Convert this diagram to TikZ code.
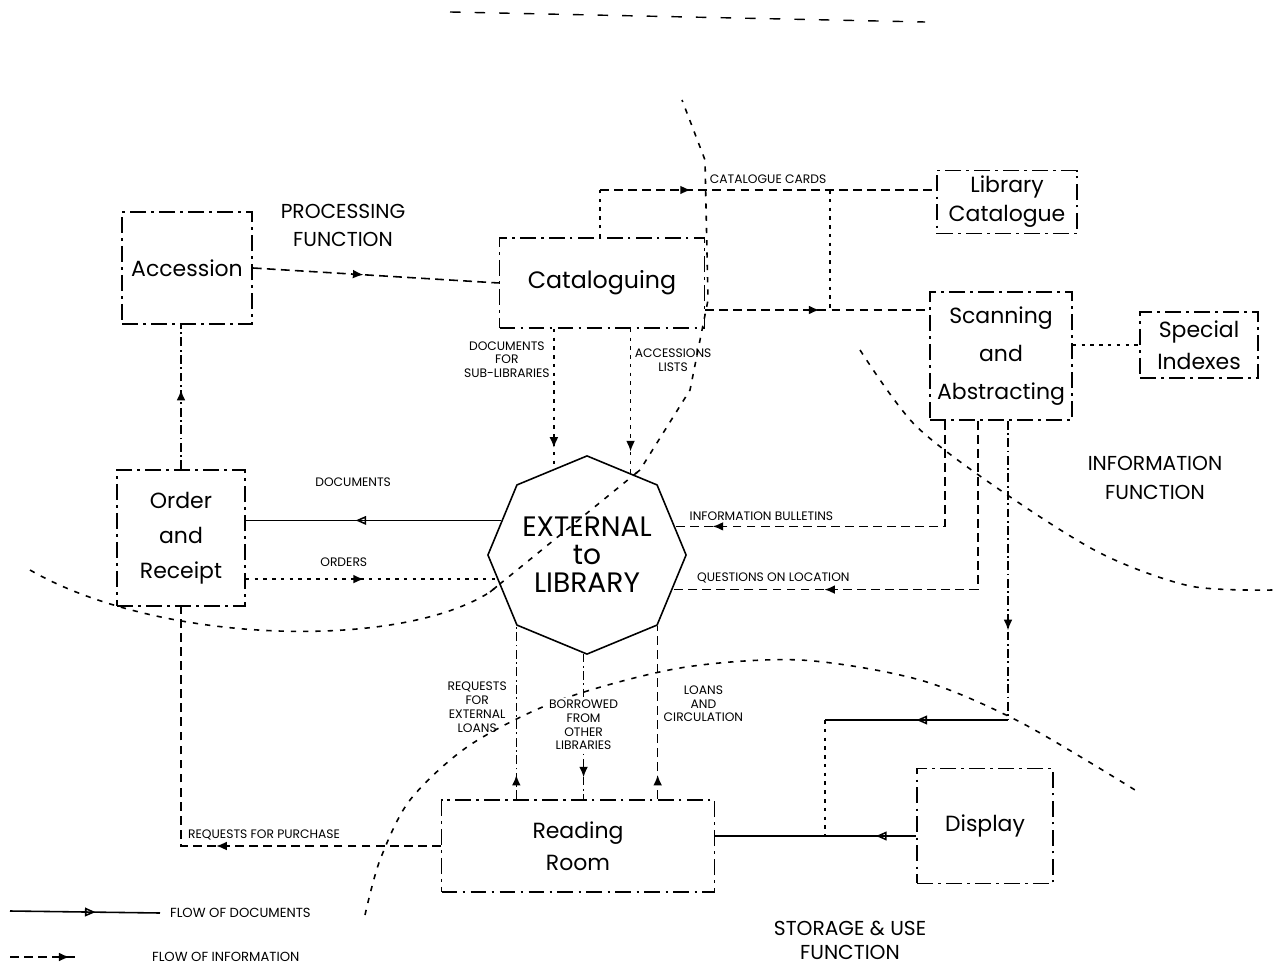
\documentclass[tikz,border=0pt]{standalone}
\usepackage{fontspec}
\setmainfont{Poppins}
\usetikzlibrary{shapes.geometric,arrows.meta,decorations.markings}

\tikzset{
  box/.style={draw, line width=0.9pt, dash pattern=on 9pt off 3pt on 1.5pt off 3pt,
    align=center, inner sep=2pt, font=\fontsize{12.5}{19}\selectfont},
  lbl/.style={font=\fontsize{7}{7.8}\selectfont, align=center, inner sep=1pt},
  fn/.style={font=\fontsize{11.5}{16}\selectfont, align=center},
  doc/.style={line width=0.9pt},
  info/.style={line width=0.9pt, dash pattern=on 5pt off 3pt},
  infodot/.style={line width=0.9pt, dash pattern=on 2pt off 3pt},
  infodd/.style={line width=0.9pt, dash pattern=on 5pt off 2pt on 1pt off 2pt},
  bound/.style={line width=0.9pt, dash pattern=on 3pt off 4pt},
  midarr/.style={postaction={decorate}, decoration={markings,
    mark=at position #1 with {\arrow{Latex[length=6pt,width=5pt]}}}},
  midtri/.style={postaction={decorate}, decoration={markings,
    mark=at position #1 with {\arrow{Triangle[open,length=6pt,width=5pt]}}}},
}

\begin{document}
\begin{tikzpicture}[x=0.02cm, y=-0.02cm]
    \tikzset{>=latex}
    \useasboundingbox (0,0) rectangle (1273,972);
    % function boundaries
    \draw[line width=0.8pt, dash pattern=on 6pt off 8pt] (450,12) -- (925,22);
    \draw[bound] (30,570) .. controls (160,645) and (400,650) .. (490,592) -- (640,470) -- (690,390) -- (708,300) -- (705,160) -- (682,100);
    \draw[bound] plot[smooth] coordinates {(860,350) (915,425) (1000,490) (1100,553) (1190,586) (1273,590)};
    \draw[bound] plot[smooth] coordinates {(365,915) (380,860) (410,800) (470,745) (560,700) (680,668) (800,660) (920,680) (1020,722) (1135,790)};
    % boxes
    \node[box, minimum width=2.6cm, minimum height=2.24cm] (acc) at (187,268) {Accession};
    \node[box, minimum width=4.1cm, minimum height=1.8cm, font=\fontsize{13.5}{19}\selectfont] (cat) at (602,283) {Cataloguing};
    \node[box, minimum width=2.8cm, minimum height=1.26cm, font=\fontsize{12.5}{16.5}\selectfont] (libcat) at (1007,202) {Library\\Catalogue};
    \node[box, minimum width=2.84cm, minimum height=2.56cm, font=\fontsize{12.5}{21.5}\selectfont] (scan) at (1001,356) {Scanning\\and\\Abstracting};
    \node[box, minimum width=2.36cm, minimum height=1.32cm, font=\fontsize{12.5}{18}\selectfont] (spec) at (1199,345) {Special\\Indexes};
    \node[box, minimum width=2.56cm, minimum height=2.72cm, font=\fontsize{12.5}{20}\selectfont] (order) at (181,538) {Order\\and\\Receipt};
    \node[box, minimum width=5.46cm, minimum height=1.84cm, font=\fontsize{12.5}{18}\selectfont] (read) at (578,846) {Reading\\Room};
    \node[box, minimum width=2.72cm, minimum height=2.3cm] (disp) at (985,826) {Display};
    \node[draw, doc, fill=white, regular polygon, regular polygon sides=8, shape border rotate=22.5,
      minimum size=3.8cm, align=center, inner sep=0pt, font=\fontsize{16}{16}\selectfont] (ext) at (587,555) {EXTERNAL\\to\\LIBRARY};
    \draw[bound] (490,592) -- (640,470);
    % function names
    \node[fn] (procfn) at (343,225) {PROCESSING\\FUNCTION};
    \node[fn] (infofn) at (1155,478) {INFORMATION\\FUNCTION};
    \node[fn, font=\fontsize{11.5}{13.6}\selectfont] (storfn) at (850,940) {STORAGE \& USE\\FUNCTION};
    % processing
    \draw[info, midarr=.45] (acc.east) -- (cat.west);
    \draw[infodd, midarr=.55] (order.north) -- (order.north |- acc.south);
    \coordinate (cc) at (600,190);
    \draw[infodot] (cat.north -| cc) -- (cc);
    \draw[info, midarr=.27] (cc) -- (libcat.west |- cc) node[lbl, pos=.5, above=2pt] (lcards) {CATALOGUE CARDS};
    \coordinate (cr) at (830,190);
    \coordinate (cs) at (830,310);
    \draw[infodot] (cr) -- (cs);
    \coordinate (ce) at (705,310);
    \draw[info, midarr=.51] (ce) -- (scan.west |- ce);
    \draw[infodot] (scan.east |- spec.west) -- (spec.west);
    % to and from outside
    \draw[infodot, midarr=.85] (cat.south -| ext.111) -- (ext.111) node[lbl, pos=.22, left=1pt] (lsub) {DOCUMENTS\\FOR\\SUB-LIBRARIES};
    \draw[infodot, midarr=.85] (cat.south -| ext.62) -- (ext.62) node[lbl, pos=.22, right=1pt] (llists) {ACCESSIONS\\LISTS};
    \draw[doc, midtri=.57] (ext.158) -- (order.east |- ext.158) node[lbl, pos=.58, above=.62cm] (ldocs) {DOCUMENTS};
    \draw[infodot, midarr=.47] (order.east |- ext.195) -- (ext.195) node[lbl, pos=.39, above=.2cm] (lorders) {ORDERS};
    \draw[info, midarr=.9] (scan.south -| 945,0) |- (ext.18) node[lbl, pos=.84, above=2pt] (lbull) {INFORMATION BULLETINS};
    \draw[info, midarr=.68] (scan.south -| 978,0) |- (ext.338) node[lbl, pos=.835, above=2pt] (lquest) {QUESTIONS ON LOCATION};
    % storage and use
    \coordinate (sd) at (1008,720);
    \coordinate (jn) at (825,836);
    \draw[infodd, midarr=.7] (scan.south -| sd) -- (sd);
    \draw[doc, midtri=.5] (sd) -- (sd -| jn);
    \draw[infodot] (sd -| jn) -- (jn);
    \draw[doc, midtri=.2] (disp.west |- jn) -- (read.east |- jn);
    \draw[info, midarr=.45] (read.west) -| (order.south) node[lbl, pos=.34, above=2pt] (lpurch) {REQUESTS FOR PURCHASE};
    \draw[infodd, midarr=.14] (read.north -| ext.225) -- (ext.225) node[lbl, pos=.53, left=4pt] (lreq) {REQUESTS\\FOR\\EXTERNAL\\LOANS};
    \draw[infodd, midarr=.85] (ext.268) -- (read.north -| ext.268) node[lbl, pos=.49, fill=white] (lborr) {BORROWED\\FROM\\OTHER\\LIBRARIES};
    \draw[info, midarr=.14] (read.north -| ext.315) -- (ext.315) node[lbl, pos=.55, right=2pt] (lloans) {LOANS\\AND\\CIRCULATION};
    % key
    \coordinate (kd1) at (10,911);
    \coordinate (kd2) at (160,913);
    \draw[doc, midtri=.57] (kd1) -- (kd2);
    \node[lbl, anchor=west, font=\fontsize{7.5}{8}\selectfont] (kdocs) at (168,913) {FLOW OF DOCUMENTS};
    \coordinate (ki1) at (10,957);
    \coordinate (ki2) at (80,957);
    \draw[info, midarr=.85] (ki1) -- (ki2);
    \node[lbl, anchor=west, font=\fontsize{7.5}{8}\selectfont] (kinfo) at (150,957) {FLOW OF INFORMATION};
\end{tikzpicture}
\end{document}
